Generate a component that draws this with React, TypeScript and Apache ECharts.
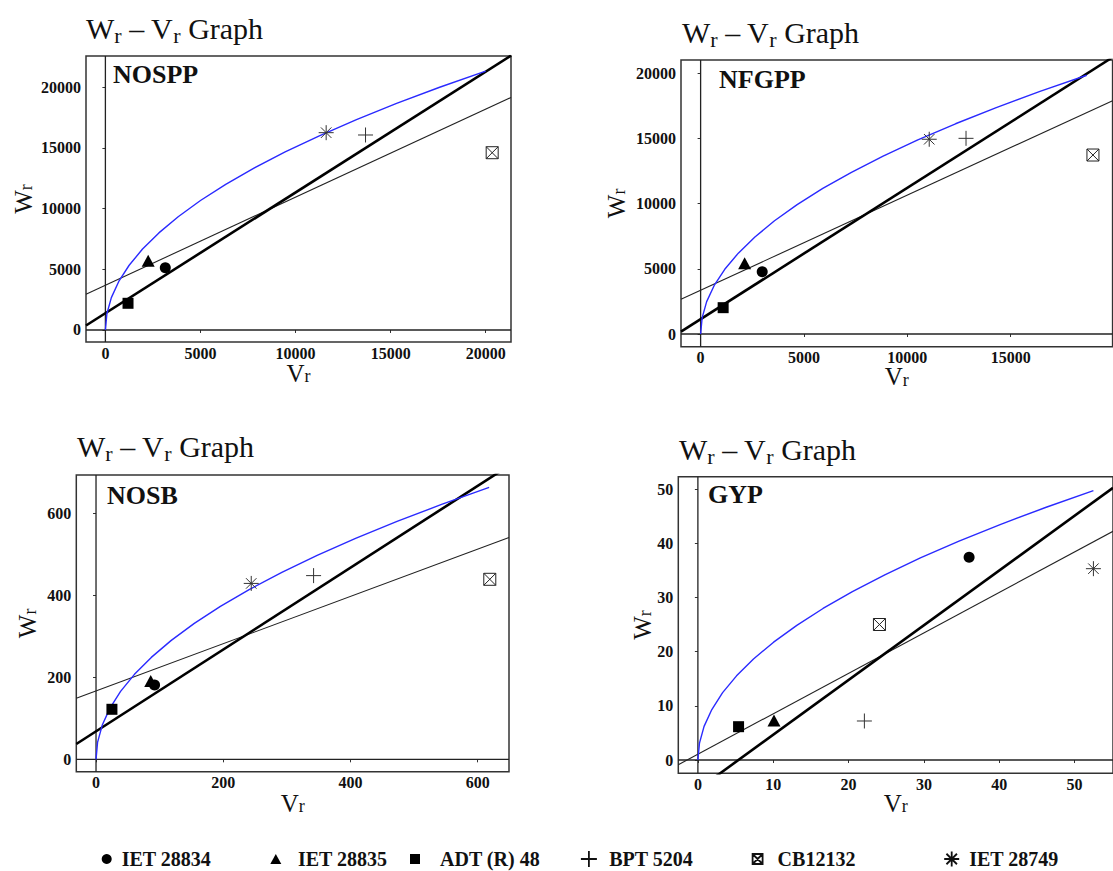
import React, { useEffect, useRef } from 'react';
import * as echarts from 'echarts';

// ---------- data ----------
const GENOTYPES = ['IET 28834', 'IET 28835', 'ADT (R) 48', 'BPT 5204', 'CB12132', 'IET 28749'];
const PANEL_LABELS = ['NOSPP', 'NFGPP', 'NOSB', 'GYP'];

// genotype points (Vr, Wr), order as GENOTYPES
const NOSPP_V = [3150, 2250, 1190, 13680, 20340, 11610];
const NOSPP_W = [5130, 5700, 2200, 16070, 14610, 16260];
const NFGPP_V = [2980, 2130, 1090, 12840, 18980, 11060];
const NFGPP_W = [4780, 5420, 2020, 15010, 13730, 14940];
const NOSB_V = [92, 86, 25, 342, 619, 244];
const NOSB_W = [181, 191, 122, 448, 439, 429];
const GYP_V = [36.0, 10.1, 5.4, 22.1, 24.1, 52.5];
const GYP_W = [37.4, 7.3, 6.15, 7.2, 25.0, 35.3];

// limiting parabola, points
const NOSPP_CURVE_V = [0, 78, 313, 703, 1250, 1953, 2813, 3828, 5000, 6328, 7813, 9453, 11250, 13203, 15313, 17578, 20000];
const NOSPP_CURVE_W = [0, 1334, 2668, 4001, 5335, 6669, 8003, 9336, 10670, 12004, 13338, 14671, 16005, 17339, 18673, 20006, 21340];
const NFGPP_CURVE_V = [0, 73, 292, 657, 1168, 1824, 2627, 3575, 4670, 5910, 7297, 8829, 10508, 12332, 14302, 16418, 18680];
const NFGPP_CURVE_W = [0, 1241, 2481, 3722, 4963, 6203, 7444, 8684, 9925, 11166, 12406, 13647, 14888, 16128, 17369, 18609, 19850];
const NOSB_CURVE_V = [0, 2.4, 9.7, 21.7, 38.6, 60.4, 86.9, 118.3, 154.5, 195.5, 241.4, 292.1, 347.6, 408.0, 473.2, 543.2, 618];
const NOSB_CURVE_W = [0, 41.4, 82.9, 124.3, 165.8, 207.2, 248.6, 290.1, 331.5, 372.9, 414.4, 455.8, 497.3, 538.7, 580.1, 621.6, 663];
const GYP_CURVE_V = [0, 0.21, 0.82, 1.85, 3.28, 5.13, 7.38, 10.05, 13.13, 16.61, 20.51, 24.81, 29.53, 34.66, 40.2, 46.14, 52.5];
const GYP_CURVE_W = [0, 3.11, 6.21, 9.32, 12.43, 15.53, 18.64, 21.74, 24.85, 27.96, 31.06, 34.17, 37.28, 40.38, 43.49, 46.59, 49.7];

// regression line (thin) and unit-slope line (thick), end points
const NOSPP_REG = [[-1020, 2953], [21330, 19166]];
const NOSPP_UNIT = [[-1020, 369], [21330, 22607]];
const NFGPP_REG = [[-949, 2665], [19931, 17897]];
const NFGPP_UNIT = [[-949, 180], [19931, 21227]];
const NOSB_REG = [[-31, 148.8], [649.2, 541]];
const NOSB_UNIT = [[-31, 37.3], [649.2, 716]];
const GYP_REG = [[-2.6, -0.87], [55.1, 42.2]];
const GYP_UNIT = [[-2.6, -8.06], [55.1, 50.22]];

// tick labels
const NOSPP_X_TICKS = [0, 5000, 10000, 15000, 20000];
const NOSPP_Y_TICKS = [0, 5000, 10000, 15000, 20000];
const NFGPP_X_TICKS = [0, 5000, 10000, 15000];
const NFGPP_Y_TICKS = [0, 5000, 10000, 15000, 20000];
const NOSB_X_TICKS = [0, 200, 400, 600];
const NOSB_Y_TICKS = [0, 200, 400, 600];
const GYP_X_TICKS = [0, 10, 20, 30, 40, 50];
const GYP_Y_TICKS = [0, 10, 20, 30, 40, 50];

const PANEL_DATA = [
  { V: NOSPP_V, W: NOSPP_W, cV: NOSPP_CURVE_V, cW: NOSPP_CURVE_W, reg: NOSPP_REG, unit: NOSPP_UNIT, xt: NOSPP_X_TICKS, yt: NOSPP_Y_TICKS },
  { V: NFGPP_V, W: NFGPP_W, cV: NFGPP_CURVE_V, cW: NFGPP_CURVE_W, reg: NFGPP_REG, unit: NFGPP_UNIT, xt: NFGPP_X_TICKS, yt: NFGPP_Y_TICKS },
  { V: NOSB_V, W: NOSB_W, cV: NOSB_CURVE_V, cW: NOSB_CURVE_W, reg: NOSB_REG, unit: NOSB_UNIT, xt: NOSB_X_TICKS, yt: NOSB_Y_TICKS },
  { V: GYP_V, W: GYP_W, cV: GYP_CURVE_V, cW: GYP_CURVE_W, reg: GYP_REG, unit: GYP_UNIT, xt: GYP_X_TICKS, yt: GYP_Y_TICKS },
];

// ---------- layout / style ----------
const SERIF = 'Liberation Serif';
const LAYOUT = [
  { grid: { left: 86, top: 56, width: 425, height: 286 }, x: [-1020, 21330], y: [-990, 22580], title: { left: 86, top: 10 }, label: { x: 113, y: 74 }, xGap: 19, yGap: 51 },
  { grid: { left: 681, top: 60, width: 431.6, height: 286.7 }, x: [-949, 19931], y: [-974, 21020], title: { left: 682, top: 14.5 }, label: { x: 719, y: 79 }, xGap: 18, yGap: 53 },
  { grid: { left: 76.3, top: 475, width: 432.7, height: 296.7 }, x: [-31, 649.2], y: [-30.2, 693.4], title: { left: 77, top: 428.5 }, label: { x: 107, y: 495 }, xGap: 19.5, yGap: 37 },
  { grid: { left: 678.3, top: 476.7, width: 444.3, height: 296.6 }, x: [-2.6, 55.1], y: [-2.45, 52.27], title: { left: 679, top: 431 }, label: { x: 708, y: 494 }, xGap: 18, yGap: 24 },
];

const PLUS = 'path://M10,0V20M0,10H20';
const BOXX = 'path://M0,0H20V20H0ZM0,0L20,20M20,0L0,20';
const ASTER = 'path://M10,0V20M0,10H20M3,3L17,17M17,3L3,17';
const NOFILL = 'rgba(0,0,0,0)';

const MARKS = [
  { symbol: 'circle', size: 11, style: { color: '#000', opacity: 1 } },
  { symbol: 'triangle', size: [13, 12], style: { color: '#000', opacity: 1 } },
  { symbol: 'rect', size: 11, style: { color: '#000', opacity: 1 } },
  { symbol: PLUS, size: 15, style: { color: NOFILL, borderColor: '#333', borderWidth: 1, opacity: 1 } },
  { symbol: BOXX, size: 12, style: { color: NOFILL, borderColor: '#222', borderWidth: 1, opacity: 1 } },
  { symbol: ASTER, size: 15, style: { color: NOFILL, borderColor: '#333', borderWidth: 1, opacity: 1 } },
];

const LEGEND_LAYOUT = [
  { cx: 106.7, w: 10, h: 10, pad: 5 },
  { cx: 275.8, w: 11, h: 10, pad: 11.7 },
  { cx: 415, w: 10, h: 10, pad: 15 },
  { cx: 588, w: 16, h: 16, pad: 7.3 },
  { cx: 756.7, w: 10, h: 10, pad: 10 },
  { cx: 950.8, w: 15, h: 15, pad: 5 },
];

const TITLE_RICH = {
  a: { fontFamily: SERIF, fontWeight: 'normal', fontSize: 30, lineHeight: 36, verticalAlign: 'middle', color: '#111' },
  b: { fontFamily: SERIF, fontWeight: 'normal', fontSize: 22, lineHeight: 24, verticalAlign: 'bottom', color: '#111' },
};
const NAME_RICH = {
  a: { fontFamily: SERIF, fontWeight: 'normal', fontSize: 25, lineHeight: 24, verticalAlign: 'middle', color: '#111' },
  b: { fontFamily: SERIF, fontWeight: 'normal', fontSize: 18, lineHeight: 13, verticalAlign: 'bottom', color: '#111' },
};
const TICK_FONT = { fontFamily: SERIF, fontWeight: 'bold', fontStyle: 'normal', fontSize: 16, fill: '#111' };

function panelLabelGraphics() {
  return LAYOUT.map((l, i) => ({
    type: 'text',
    x: l.label.x,
    y: l.label.y,
    silent: true,
    style: { text: PANEL_LABELS[i], fontFamily: SERIF, fontWeight: 'bold', fontSize: 26, fill: '#111', verticalAlign: 'middle', align: 'left' },
    z: 10,
  }));
}

function buildOption() {
  const grid = LAYOUT.map((l) => ({
    ...l.grid,
    show: true,
    borderColor: '#333',
    borderWidth: 1.5,
    backgroundColor: 'transparent',
    containLabel: false,
  }));
  const xAxis = LAYOUT.map((l, i) => ({
    type: 'value',
    gridIndex: i,
    min: l.x[0],
    max: l.x[1],
    name: '{a|V}{b|r}',
    nameLocation: 'middle',
    nameGap: l.xGap,
    nameTextStyle: { rich: NAME_RICH, verticalAlign: 'top' },
    axisLine: { show: false },
    splitLine: { show: false },
    axisTick: { show: true, length: 3, inside: false, customValues: PANEL_DATA[i].xt, lineStyle: { color: '#333', width: 1 } },
    axisLabel: { show: false },
  }));
  const yAxis = LAYOUT.map((l, i) => ({
    type: 'value',
    gridIndex: i,
    min: l.y[0],
    max: l.y[1],
    name: '{a|W}{b|r}',
    nameLocation: 'middle',
    nameRotate: 90,
    nameGap: l.yGap,
    nameTextStyle: { rich: NAME_RICH },
    axisLine: { show: false },
    splitLine: { show: false },
    axisTick: { show: true, length: 3, inside: false, customValues: PANEL_DATA[i].yt, lineStyle: { color: '#333', width: 1 } },
    axisLabel: { show: false },
  }));

  const series: any[] = [];
  PANEL_DATA.forEach((p, i) => {
    const l = LAYOUT[i];
    const common = { xAxisIndex: i, yAxisIndex: i, silent: true, showSymbol: false, symbol: 'none', clip: true };
    series.push({ ...common, type: 'line', data: [[0, l.y[0]], [0, l.y[1]]], lineStyle: { color: '#222', width: 1.3 }, z: 1 });
    series.push({ ...common, type: 'line', data: [[l.x[0], 0], [l.x[1], 0]], lineStyle: { color: '#222', width: 1.3 }, z: 1 });
    series.push({ ...common, type: 'line', data: p.reg, lineStyle: { color: '#222', width: 1.1 }, z: 2 });
    series.push({ ...common, type: 'line', data: p.unit, lineStyle: { color: '#000', width: 2.6 }, z: 2 });
    series.push({ ...common, type: 'line', data: p.cV.map((v, k) => [v, p.cW[k]]), lineStyle: { color: '#2a2aff', width: 1.4 }, z: 3 });
    GENOTYPES.forEach((g, j) => {
      series.push({
        type: 'scatter',
        name: g,
        xAxisIndex: i,
        yAxisIndex: i,
        symbol: MARKS[j].symbol,
        symbolSize: MARKS[j].size,
        itemStyle: MARKS[j].style,
        data: [[p.V[j], p.W[j]]],
        z: 4,
        silent: true,
      });
    });
  });

  const title = LAYOUT.map((l) => ({
    text: '{a|W}{b|r}{a| – V}{b|r}{a| Graph}',
    left: l.title.left,
    top: l.title.top,
    padding: 0,
    textStyle: { fontWeight: 'normal', fontFamily: SERIF, rich: TITLE_RICH },
  }));

  const legend = LEGEND_LAYOUT.map((ll, j) => {
    const stroke = j >= 3;
    return {
      data: [GENOTYPES[j]],
      left: ll.cx - ll.w / 2,
      top: 849,
      padding: 0,
      itemWidth: ll.w,
      itemHeight: ll.h,
      icon: MARKS[j].symbol,
      selectedMode: false,
      itemStyle: stroke ? { color: NOFILL, borderColor: '#111', borderWidth: 1.8, opacity: 1 } : { color: '#000', borderWidth: 0, opacity: 1 },
      textStyle: { fontFamily: SERIF, fontWeight: 'bold', fontSize: 20, color: '#111', lineHeight: 20, padding: [0, 0, 0, ll.pad] },
    };
  });

  return {
    animation: false,
    backgroundColor: '#fff',
    textStyle: { fontFamily: SERIF },
    title,
    legend,
    grid,
    xAxis,
    yAxis,
    series,
    graphic: panelLabelGraphics(),
  };
}

// tick labels placed through the axes' own scales (convertToPixel)
function tickLabelGraphics(chart: any) {
  const out: any[] = [];
  PANEL_DATA.forEach((p, i) => {
    const l = LAYOUT[i];
    const bottom = l.grid.top + l.grid.height;
    p.xt.forEach((v) => {
      const px = chart.convertToPixel({ xAxisIndex: i }, v);
      out.push({ type: 'text', x: px, y: bottom + 3, silent: true, style: { text: String(v), ...TICK_FONT, align: 'center', verticalAlign: 'top' } });
    });
    p.yt.forEach((v) => {
      const py = chart.convertToPixel({ yAxisIndex: i }, v);
      out.push({ type: 'text', x: l.grid.left - 5, y: py, silent: true, style: { text: String(v), ...TICK_FONT, align: 'right', verticalAlign: 'middle' } });
    });
  });
  return out;
}

export default function App() {
  const ref = useRef<HTMLDivElement>(null);
  useEffect(() => {
    if (!ref.current) return;
    const chart = echarts.init(ref.current, null, { renderer: 'svg' });
    chart.setOption(buildOption() as any);
    chart.setOption({ graphic: [...panelLabelGraphics(), ...tickLabelGraphics(chart)] } as any);
    return () => chart.dispose();
  }, []);
  return <div ref={ref} style={{ position: 'fixed', left: 0, top: 0, width: 1113, height: 871 }} />;
}
